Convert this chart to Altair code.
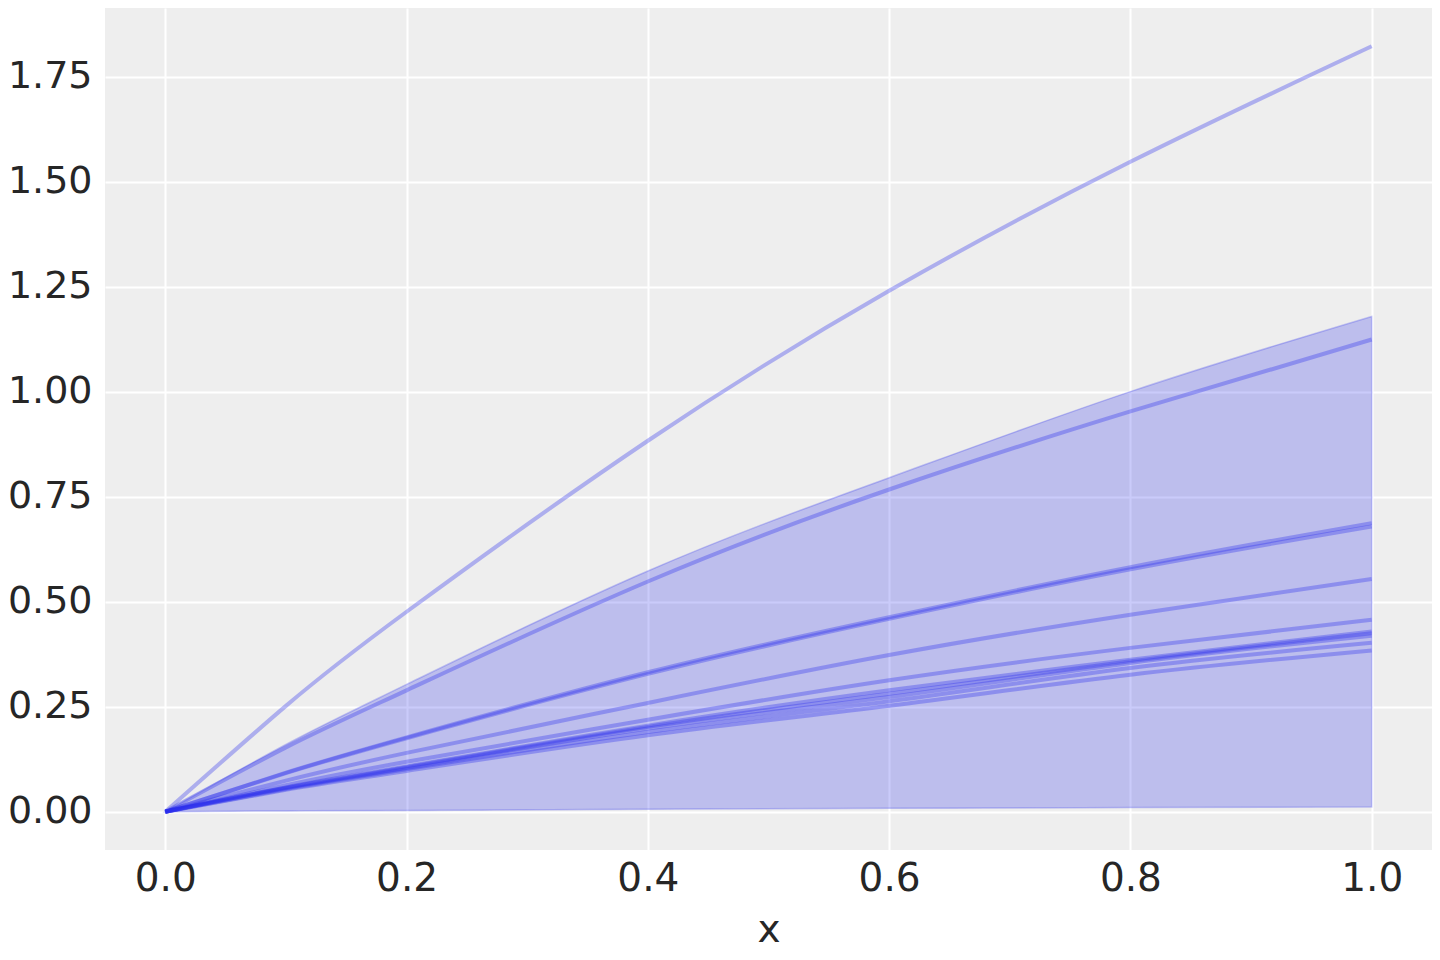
import altair as alt
import pandas as pd

# x positions at which values were read
xs = [0.0, 0.1, 0.2, 0.4, 0.6, 0.8, 1.0]

# sample lines
line_values = [
    [0, 0.252, 0.476, 0.883, 1.240, 1.547, 1.822],
    [0, 0.153, 0.289, 0.548, 0.767, 0.953, 1.124],
    [0, 0.093, 0.177, 0.332, 0.463, 0.582, 0.687],
    [0, 0.092, 0.175, 0.328, 0.459, 0.577, 0.679],
    [0, 0.074, 0.140, 0.259, 0.373, 0.469, 0.554],
    [0, 0.063, 0.119, 0.219, 0.313, 0.390, 0.457],
    [0, 0.058, 0.108, 0.205, 0.289, 0.362, 0.429],
    [0, 0.057, 0.106, 0.202, 0.281, 0.358, 0.425],
    [0, 0.056, 0.104, 0.198, 0.273, 0.354, 0.419],
    [0, 0.054, 0.101, 0.190, 0.263, 0.342, 0.402],
    [0, 0.052, 0.097, 0.182, 0.252, 0.326, 0.384],
]

# HDI band
band_upper = [0, 0.160, 0.303, 0.573, 0.795, 1.000, 1.179]
band_lower = [0, 0.002, 0.003, 0.006, 0.008, 0.010, 0.011]

y_ticks = [0.0, 0.25, 0.5, 0.75, 1.0, 1.25, 1.5, 1.75]
x_ticks = [0.0, 0.2, 0.4, 0.6, 0.8, 1.0]

rows = []
for i, vals in enumerate(line_values):
    for x, v in zip(xs, vals):
        rows.append({"x": x, "y": v, "line": i})
lines_df = pd.DataFrame(rows)
band_df = pd.DataFrame({"x": xs, "lo": band_lower, "hi": band_upper})

BLUE = "#2a2eec"
FONT = "DejaVu Sans"

xscale = alt.Scale(domain=[-0.05, 1.05], nice=False, zero=False)
yscale = alt.Scale(domain=[-0.0911, 1.9131], nice=False, zero=False)

xaxis = alt.Axis(values=x_ticks, format=".1f", title="x", labelPadding=9, titlePadding=12)
yaxis = alt.Axis(values=y_ticks, format=".2f", title=None, labelPadding=13, labelFontSize=38)

band = alt.Chart(band_df).mark_area(
    color=BLUE, fillOpacity=0.25, stroke=BLUE, strokeOpacity=0.25, strokeWidth=1.5,
    interpolate="natural"
).encode(
    x=alt.X("x:Q", scale=xscale, axis=xaxis),
    y=alt.Y("hi:Q", scale=yscale, axis=yaxis),
    y2="lo:Q",
)

lines = alt.Chart(lines_df).mark_line(
    color=BLUE, opacity=0.33, strokeWidth=4, interpolate="natural"
).encode(
    x=alt.X("x:Q", scale=xscale),
    y=alt.Y("y:Q", scale=yscale),
    detail="line:N",
)

chart = alt.layer(band, lines).properties(
    width=1327,
    height=842,
    autosize=alt.AutoSizeParams(type="none"),
    padding={"left": 97, "top": 0, "right": 0, "bottom": 100},
    background="white",
).configure_view(
    fill="#eeeeee", strokeWidth=0
).configure_axis(
    domain=False, ticks=False, grid=True, gridColor="white", gridWidth=2,
    labelFont=FONT, labelFontSize=39, labelColor="#262626",
    titleFont=FONT, titleFontSize=39, titleColor="#262626", titleFontWeight="normal",
)

chart.save("out.html", embed_options={"renderer": "svg", "actions": False})
